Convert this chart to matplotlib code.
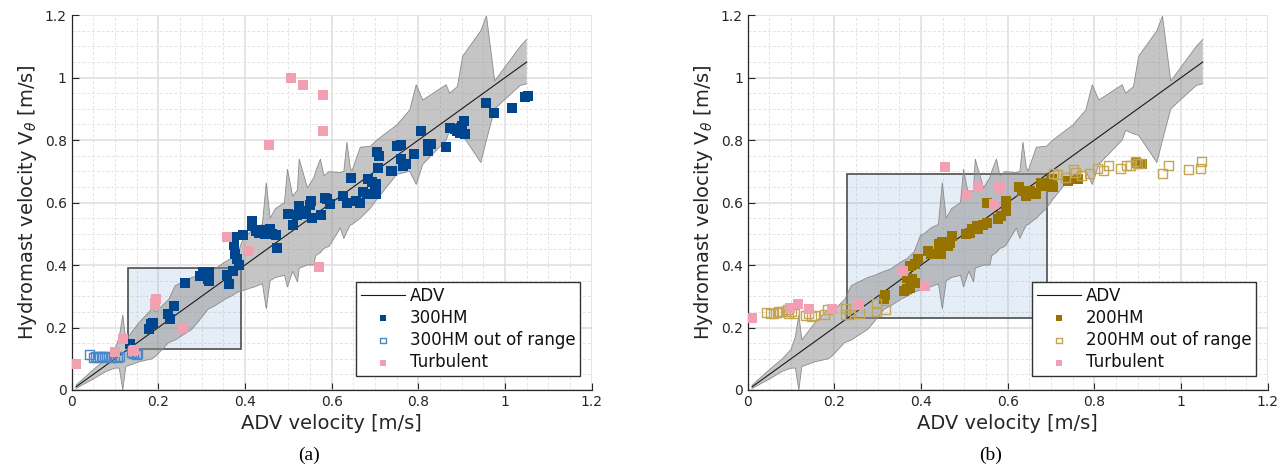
import matplotlib
matplotlib.use("Agg")
import matplotlib.pyplot as plt
from matplotlib.ticker import MultipleLocator
from matplotlib.patches import Rectangle

# ---- data ----
band_x = [0.01, 0.05, 0.08, 0.10, 0.11, 0.118, 0.125, 0.155, 0.186, 0.194, 0.224, 0.239,
          0.277, 0.293, 0.315, 0.331, 0.354, 0.368, 0.384, 0.399, 0.407, 0.422, 0.44, 0.449,
          0.458, 0.47, 0.491, 0.498, 0.51, 0.521, 0.525, 0.544, 0.559, 0.563, 0.574, 0.582,
          0.594, 0.62, 0.628, 0.635, 0.643, 0.647, 0.666, 0.689, 0.704, 0.75, 0.78, 0.795,
          0.81, 0.864, 0.872, 0.89, 0.902, 0.944, 0.957, 0.976, 1.035, 1.05]
band_lo = [0.005, 0.035, 0.06, 0.07, 0.07, 0.0, 0.075, 0.09, 0.10, 0.108, 0.152, 0.16,
           0.194, 0.22, 0.259, 0.27, 0.291, 0.30, 0.314, 0.32, 0.324, 0.33, 0.34, 0.26,
           0.35, 0.36, 0.367, 0.33, 0.38, 0.346, 0.39, 0.40, 0.40, 0.43, 0.44, 0.453,
           0.46, 0.518, 0.485, 0.507, 0.528, 0.53, 0.55, 0.582, 0.61, 0.69, 0.70, 0.658,
           0.722, 0.80, 0.831, 0.82, 0.815, 0.728, 0.80, 0.90, 0.975, 0.98]
band_hi = [0.015, 0.065, 0.10, 0.13, 0.17, 0.24, 0.16, 0.215, 0.26, 0.25, 0.29, 0.334,
           0.36, 0.367, 0.38, 0.388, 0.41, 0.421, 0.442, 0.496, 0.50, 0.518, 0.53, 0.663,
           0.55, 0.58, 0.60, 0.706, 0.62, 0.64, 0.739, 0.647, 0.68, 0.70, 0.739, 0.686,
           0.699, 0.696, 0.70, 0.793, 0.71, 0.702, 0.777, 0.78, 0.80, 0.848, 0.896, 0.977,
           0.928, 0.977, 0.95, 0.971, 1.068, 1.15, 1.197, 0.989, 1.10, 1.122]

adv_x = [0.01, 1.05]
adv_y = [0.01, 1.05]

hm300_x = [1.047, 1.052, 1.017, 0.957, 0.974, 0.906, 0.901, 0.908, 0.896, 0.873, 0.884, 0.890, 0.898,
           0.807, 0.863, 0.821, 0.830, 0.821, 0.790, 0.759, 0.750, 0.759, 0.764, 0.772, 0.736, 0.740,
           0.705, 0.710, 0.707, 0.703, 0.700, 0.701, 0.684, 0.693, 0.673, 0.682, 0.644,
           0.627, 0.635, 0.665, 0.656, 0.590, 0.597, 0.585, 0.575, 0.552, 0.549, 0.555,
           0.524, 0.528, 0.533, 0.519, 0.500, 0.511, 0.540, 0.473,
           0.417, 0.417, 0.425, 0.439, 0.448, 0.458, 0.462, 0.472, 0.445, 0.432,
           0.396, 0.375, 0.375, 0.377, 0.382, 0.387, 0.373, 0.358, 0.363,
           0.297, 0.302, 0.316, 0.318, 0.315, 0.262, 0.236, 0.222, 0.226, 0.179, 0.184, 0.187, 0.135]
hm300_y = [0.937, 0.941, 0.904, 0.917, 0.886, 0.861, 0.845, 0.818, 0.823, 0.839, 0.834, 0.830, 0.840,
           0.829, 0.779, 0.786, 0.786, 0.765, 0.756, 0.783, 0.781, 0.738, 0.717, 0.722, 0.701, 0.700,
           0.763, 0.749, 0.711, 0.658, 0.642, 0.626, 0.674, 0.666, 0.634, 0.628, 0.678,
           0.621, 0.597, 0.599, 0.605, 0.610, 0.594, 0.615, 0.560, 0.605, 0.591, 0.551,
           0.589, 0.573, 0.562, 0.560, 0.562, 0.527, 0.565, 0.455,
           0.541, 0.525, 0.509, 0.512, 0.505, 0.516, 0.500, 0.495, 0.498, 0.503,
           0.496, 0.491, 0.463, 0.434, 0.420, 0.400, 0.380, 0.367, 0.340,
           0.366, 0.378, 0.378, 0.349, 0.356, 0.342, 0.269, 0.242, 0.228, 0.196, 0.210, 0.213, 0.148]

hm300_out_x = [0.042, 0.050, 0.055, 0.060, 0.065, 0.070, 0.075, 0.080, 0.085, 0.092, 0.098,
               0.105, 0.110, 0.138, 0.143, 0.150, 0.153]
hm300_out_y = [0.113, 0.103, 0.106, 0.104, 0.107, 0.106, 0.107, 0.105, 0.107, 0.104, 0.107,
               0.103, 0.106, 0.120, 0.117, 0.113, 0.118]

turb_a_x = [0.011, 0.101, 0.118, 0.142, 0.145, 0.193, 0.195, 0.192, 0.257, 0.358, 0.408,
            0.456, 0.507, 0.533, 0.580, 0.579, 0.571]
turb_a_y = [0.084, 0.123, 0.164, 0.125, 0.128, 0.277, 0.290, 0.272, 0.199, 0.490, 0.445,
            0.784, 0.997, 0.975, 0.943, 0.829, 0.395]

hm200_x = [0.317, 0.315, 0.361, 0.368, 0.375, 0.368, 0.380, 0.385, 0.375, 0.385, 0.394, 0.416,
           0.423, 0.447, 0.442, 0.449, 0.456, 0.461, 0.471, 0.466, 0.504, 0.513, 0.518, 0.528,
           0.532, 0.542, 0.552, 0.553, 0.577, 0.585, 0.597, 0.595, 0.626, 0.632, 0.642, 0.652,
           0.661, 0.666, 0.676, 0.680, 0.690, 0.698, 0.702, 0.704, 0.740, 0.761, 0.895, 0.904, 0.909]
hm200_y = [0.303, 0.290, 0.317, 0.322, 0.327, 0.359, 0.354, 0.343, 0.397, 0.402, 0.418, 0.445,
           0.434, 0.434, 0.466, 0.474, 0.471, 0.461, 0.493, 0.470, 0.498, 0.503, 0.516, 0.525,
           0.515, 0.527, 0.535, 0.599, 0.546, 0.557, 0.573, 0.605, 0.650, 0.638, 0.621, 0.637,
           0.632, 0.626, 0.663, 0.653, 0.663, 0.653, 0.674, 0.650, 0.669, 0.674, 0.727, 0.722, 0.724]

hm200_out_x = [0.044, 0.052, 0.060, 0.068, 0.072, 0.079, 0.087, 0.093, 0.094, 0.102, 0.109,
               0.133, 0.140, 0.148, 0.155, 0.178, 0.185, 0.225, 0.225, 0.236, 0.259, 0.297,
               0.297, 0.317, 0.706, 0.715, 0.733, 0.752, 0.757, 0.771, 0.789, 0.807, 0.820,
               0.832, 0.860, 0.874, 0.883, 0.895, 0.900, 0.906, 0.956, 0.971, 1.016, 1.045, 1.048]
hm200_out_y = [0.248, 0.246, 0.244, 0.247, 0.250, 0.252, 0.250, 0.259, 0.246, 0.250, 0.246,
               0.240, 0.244, 0.235, 0.238, 0.241, 0.258, 0.262, 0.241, 0.241, 0.246, 0.278,
               0.250, 0.259, 0.694, 0.690, 0.681, 0.707, 0.695, 0.688, 0.694, 0.709, 0.704,
               0.717, 0.710, 0.718, 0.717, 0.730, 0.726, 0.726, 0.694, 0.720, 0.707, 0.708, 0.730]

turb_b_x = [0.010, 0.098, 0.115, 0.141, 0.194, 0.256, 0.359, 0.408, 0.456, 0.507, 0.532,
            0.569, 0.580, 0.582]
turb_b_y = [0.231, 0.263, 0.274, 0.258, 0.258, 0.272, 0.381, 0.333, 0.714, 0.624, 0.651,
            0.596, 0.651, 0.645]

ticks = [0, 0.2, 0.4, 0.6, 0.8, 1.0, 1.2]
tick_labels = ["0", "0.2", "0.4", "0.6", "0.8", "1", "1.2"]

txt = "#262626"


def panel(ax, rect, fx, fy, ox, oy, tx, ty, name, col_fill, col_open):
    ax.set_xlim(0, 1.2)
    ax.set_ylim(0, 1.2)
    ax.set_axisbelow(True)
    ax.xaxis.set_minor_locator(MultipleLocator(0.05))
    ax.yaxis.set_minor_locator(MultipleLocator(0.05))
    ax.grid(which="major", color="#dedede", lw=1.1)
    ax.grid(which="minor", color="#e4e4e4", lw=0.7, ls=(0, (3, 2)))
    ax.set_xticks(ticks)
    ax.set_xticklabels(tick_labels)
    ax.set_yticks(ticks)
    ax.set_yticklabels(tick_labels)
    ax.tick_params(which="major", direction="in", length=5, color=txt,
                   labelsize=10, labelcolor=txt)
    ax.tick_params(which="minor", length=0)
    for s in ["top", "right"]:
        ax.spines[s].set_visible(False)
    for s in ["left", "bottom"]:
        ax.spines[s].set_color(txt)
        ax.spines[s].set_linewidth(0.9)

    ax.add_patch(Rectangle((rect[0], rect[0]), rect[1] - rect[0], rect[1] - rect[0],
                           facecolor=(0.55, 0.68, 0.86, 0.22), edgecolor="#4d4d4d",
                           lw=1.2, zorder=1))
    ax.fill_between(band_x, band_lo, band_hi, facecolor="#8c8c8c", alpha=0.5,
                    edgecolor="none", zorder=2)
    ax.plot(band_x, band_lo, color="#8a8a8a", lw=0.6, zorder=2)
    ax.plot(band_x, band_hi, color="#8a8a8a", lw=0.6, zorder=2)

    ax.plot(adv_x, adv_y, color="#1a1a1a", lw=0.8, zorder=3, label="ADV")
    ax.scatter(fx, fy, marker="s", s=42, color=col_fill, linewidths=0, zorder=4, label=name)
    ax.scatter(ox, oy, marker="s", s=42, facecolors="none", edgecolors=col_open,
               linewidths=1.0, zorder=4, label=name + " out of range")
    ax.scatter(tx, ty, marker="s", s=42, color="#f0a0b0", linewidths=0, zorder=5,
               label="Turbulent")

    ax.set_xlabel("ADV velocity [m/s]", fontsize=14, color=txt)
    ax.set_ylabel(r"Hydromast velocity V$_\theta$ [m/s]", fontsize=14, color=txt)
    leg = ax.legend(loc="lower right", bbox_to_anchor=(0.978, 0.037), borderaxespad=0,
                    fontsize=12, fancybox=False, framealpha=1, edgecolor="#333333",
                    handlelength=2.6, handletextpad=0.3, labelspacing=0.25,
                    borderpad=0.3, markerscale=0.6)
    leg.get_frame().set_linewidth(1.0)
    for t in leg.get_texts():
        t.set_color("#111111")


fig = plt.figure(figsize=(12.86, 4.71), dpi=100)
ax1 = fig.add_axes([0.0557, 0.172, 0.4045, 0.796])
ax2 = fig.add_axes([0.5814, 0.172, 0.4045, 0.796])

panel(ax1, (0.13, 0.39), hm300_x, hm300_y, hm300_out_x, hm300_out_y, turb_a_x, turb_a_y,
      "300HM", "#00468f", "#4a86c8")
panel(ax2, (0.23, 0.69), hm200_x, hm200_y, hm200_out_x, hm200_out_y, turb_b_x, turb_b_y,
      "200HM", "#977400", "#c4a552")

fig.text(0.240, 0.034, "(a)", fontsize=14, family="Liberation Serif", ha="center", va="center")
fig.text(0.770, 0.034, "(b)", fontsize=14, family="Liberation Serif", ha="center", va="center")

fig.savefig("out.png", dpi=100)
